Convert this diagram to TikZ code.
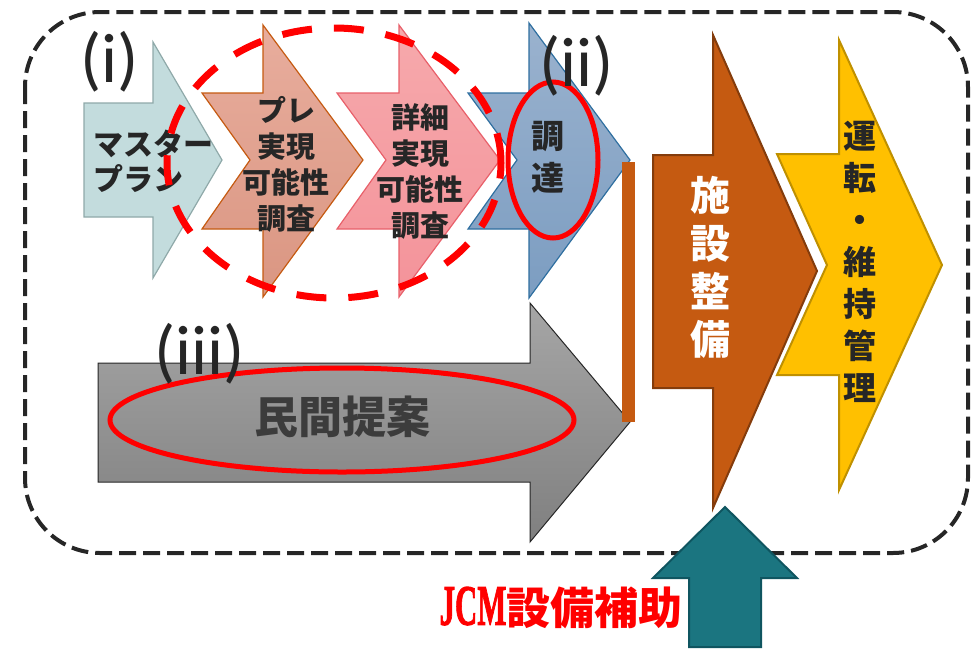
\documentclass[tikz,border=0pt]{standalone}
\usepackage{fontspec}
\setmainfont{Noto Sans CJK JP}
\newfontfamily\tagfont{Carlito}
\newfontfamily\jcmfont{Liberation Serif}[UprightFont=* Bold, BoldFont=* Bold, FakeBold=2]
\usetikzlibrary{arrows.meta}

\definecolor{txtgray}{HTML}{262626}
\definecolor{mpfill}{HTML}{C3DCDD}
\definecolor{mpline}{HTML}{8FA9A9}
\definecolor{pretop}{HTML}{E8AD9D}
\definecolor{prebot}{HTML}{DA9682}
\definecolor{preline}{HTML}{C55A11}
\definecolor{fstop}{HTML}{F6A9AC}
\definecolor{fsbot}{HTML}{F4939A}
\definecolor{fsline}{HTML}{E8606A}
\definecolor{proctop}{HTML}{9AB2CE}
\definecolor{procbot}{HTML}{7C9DC1}
\definecolor{procline}{HTML}{2F6FA0}
\definecolor{facfill}{HTML}{C55A11}
\definecolor{facline}{HTML}{843C0C}
\definecolor{omfill}{HTML}{FFC000}
\definecolor{omline}{HTML}{BF9000}
\definecolor{subfill}{HTML}{1B7580}
\definecolor{subline}{HTML}{0F5560}
\definecolor{jcmred}{HTML}{FF0000}

\tikzset{
  stage/.style={draw, line width=1.2pt, line join=miter},
  stagetext/.style={text=txtgray, inner sep=0pt, align=center,
    font=\bfseries\fontsize{29}{36}\selectfont},
  tagtext/.style={text=txtgray, inner sep=0pt,
    font=\tagfont\fontsize{70}{70}\selectfont},
}

\begin{document}
\begin{tikzpicture}[x=1pt, y=-1pt]

  \useasboundingbox (0,0) rectangle (975,649);

  %% outer frame
  \draw[txtgray, line width=4pt, dash pattern=on 17pt off 7pt, rounded corners=75pt]
    (25,12) rectangle (968,553);

  %% (i) master plan
  \draw[stage, draw=mpline, fill=mpfill] (84,103) -- (153,103) -- (153,42) -- (222,160)
    -- (153,278) -- (153,217) -- (84,217) -- cycle;
  %% pre FS
  \draw[stage, draw=preline, top color=pretop, bottom color=prebot]
    (202,93) -- (263,93) -- (263,25) -- (363,160) -- (263,297) -- (263,229) -- (202,229)
    -- (250,160) -- cycle;
  %% detailed FS
  \draw[stage, draw=fsline, top color=fstop, bottom color=fsbot]
    (337,93) -- (399,93) -- (399,25) -- (500,160) -- (399,297) -- (399,229) -- (337,229)
    -- (386,160) -- cycle;
  %% (ii) procurement
  \draw[stage, draw=procline, top color=proctop, bottom color=procbot]
    (468,93) -- (529,93) -- (529,23) -- (630,160) -- (529,298) -- (529,229) -- (468,229)
    -- (517,160) -- cycle;
  %% (iii) private proposal
  \draw[stage, line width=1pt, draw=black!85, top color=black!35, bottom color=black!50]
    (98,363) -- (530,363) -- (530,303) -- (630,422) -- (530,542) -- (530,482) -- (98,482) -- cycle;
  %% bar
  \draw[facfill, line width=13pt] (628,162) -- (628,422);
  %% facility
  \draw[stage, line width=2pt, draw=facline, fill=facfill]
    (653,155) -- (713,155) -- (713,35) -- (817,271) -- (713,508) -- (713,388) -- (653,388) -- cycle;
  %% O&M
  \draw[stage, line width=2pt, draw=omline, fill=omfill]
    (777,154) -- (839,154) -- (839,40) -- (942,265) -- (839,490) -- (839,375) -- (777,375)
    -- (827,265) -- cycle;

  %% subsidy
  \draw[stage, line width=2pt, draw=subline, fill=subfill]
    (689,647) -- (689,578) -- (653,578) -- (725,507) -- (797,578) -- (761,578) -- (761,647) -- cycle;

  \node[stagetext, align=left, anchor=west, font=\bfseries\fontsize{30}{35}\selectfont] (mp) at (93,161)
    {マスター\\プラン};
  \node[stagetext] (prefs) at (286,164) {プレ\\実現\\可能性\\調査};
  \node[stagetext] (detfs) at (420,171) {詳細\\実現\\可能性\\調査};
  \node[stagetext, font=\bfseries\fontsize{33}{42}\selectfont] (proc) at (548,157) {調\\達};
  \node[stagetext, text=white, font=\bfseries\fontsize{40}{48}\selectfont] (fac) at (710,267)
    {施\\設\\整\\備};
  \node[stagetext, font=\bfseries\fontsize{33}{42}\selectfont] (om) at (860,262)
    {運\\転\\・\\維\\持\\管\\理};
  \node[stagetext, text=txtgray!90, font=\bfseries\fontsize{44}{44}\selectfont] (prop) at (342,417)
    {民間提案};
  \node[inner sep=0pt, text=jcmred, font=\bfseries\fontsize{44}{44}\selectfont] (jcm) at (561,608)
    {{\jcmfont\scalebox{0.7}[1.3]{JCM}}設備補助};

  %% red marks
  \draw[jcmred, line width=7pt, dash pattern=on 30pt off 22pt] (334,163) ellipse [x radius=167pt, y radius=135pt];
  \draw[jcmred, line width=5pt] (553,160) ellipse [x radius=45pt, y radius=78pt];
  \draw[jcmred, line width=5pt] (342,420) ellipse [x radius=232pt, y radius=52pt];

  \node[tagtext] (t1) at (110,62) {(i)};
  \node[tagtext] (t2) at (577,66) {(ii)};
  \node[tagtext] (t3) at (200,354) {(iii)};

\end{tikzpicture}
\end{document}
